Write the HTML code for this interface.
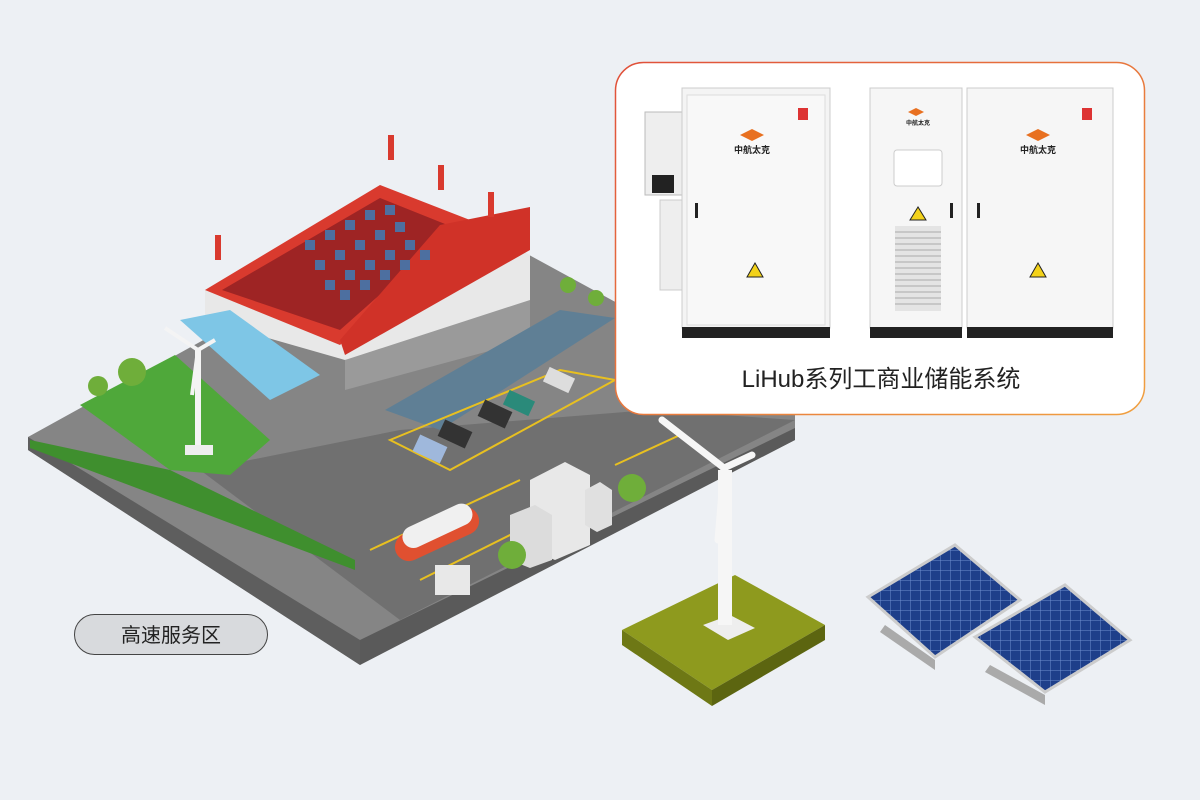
<!DOCTYPE html>
<html><head><meta charset="utf-8"><style>
html,body{margin:0;padding:0;background:#edf0f4;}
body{width:1200px;height:800px;overflow:hidden;position:relative;font-family:"Liberation Sans","Noto Sans CJK SC",sans-serif;}
svg{position:absolute;left:0;top:0}
</style></head><body>
<svg width="1200" height="800" viewBox="0 0 1200 800">
<defs>
<linearGradient id="bd" x1="0" y1="0" x2="1" y2="1"><stop offset="0" stop-color="#e0503a"/><stop offset="1" stop-color="#f0a040"/></linearGradient>
<pattern id="pv" width="10" height="10" patternUnits="userSpaceOnUse"><rect width="10" height="10" fill="#1e3f8a"/><path d="M0 0H10M0 0V10" stroke="#6f8fcf" stroke-width="1"/></pattern>
</defs>
<!-- ground -->
<polygon points="28,437 330,270 520,250 795,400 795,440 400,640 360,665 28,450" fill="#858585"/>
<polygon points="28,437 360,640 360,665 28,450" fill="#5e5e5e"/>
<polygon points="360,640 360,665 795,440 795,428" fill="#5a5a5a"/>
<polygon points="200,470 400,430 650,410 795,420 400,620" fill="#707070"/>
<path d="M370 550 L520 480 M420 580 L600 490 M615 465 L680 435" stroke="#e8c020" stroke-width="2"/>
<!-- grass -->
<polygon points="80,405 175,355 270,440 230,475 170,470" fill="#4fa83a"/>
<polygon points="30,440 170,470 355,560 355,570 30,448" fill="#3f8f2e"/>
<!-- building -->
<polygon points="205,290 380,185 530,255 530,330 345,360 205,320" fill="#e8e8e8"/>
<polygon points="345,360 530,300 530,340 345,390" fill="#9a9a9a"/>
<polygon points="205,290 380,185 470,220 340,345" fill="#d93a2e"/>
<polygon points="222,290 380,198 455,228 340,330" fill="#9e2424"/>
<polygon points="440,225 530,207 530,250 345,355 340,340" fill="#d03228"/>
<polygon points="180,320 230,310 320,375 270,400" fill="#7ec6e6"/>
<g fill="#4d6fa0">
<rect x="305" y="240" width="10" height="10"/><rect x="325" y="230" width="10" height="10"/><rect x="345" y="220" width="10" height="10"/><rect x="365" y="210" width="10" height="10"/><rect x="385" y="205" width="10" height="10"/>
<rect x="315" y="260" width="10" height="10"/><rect x="335" y="250" width="10" height="10"/><rect x="355" y="240" width="10" height="10"/><rect x="375" y="230" width="10" height="10"/><rect x="395" y="222" width="10" height="10"/>
<rect x="325" y="280" width="10" height="10"/><rect x="345" y="270" width="10" height="10"/><rect x="365" y="260" width="10" height="10"/><rect x="385" y="250" width="10" height="10"/><rect x="405" y="240" width="10" height="10"/>
<rect x="340" y="290" width="10" height="10"/><rect x="360" y="280" width="10" height="10"/><rect x="380" y="270" width="10" height="10"/><rect x="400" y="260" width="10" height="10"/><rect x="420" y="250" width="10" height="10"/></g>
<g fill="#d93a2e"><rect x="388" y="135" width="6" height="25"/><rect x="438" y="165" width="6" height="25"/><rect x="488" y="192" width="6" height="25"/><rect x="215" y="235" width="6" height="25"/></g>
<!-- carport -->
<polygon points="385,410 560,310 615,318 440,430" fill="#5f7f95"/>
<polygon points="390,440 560,370 615,380 450,470" fill="none" stroke="#e8c020" stroke-width="2"/>
<rect x="415" y="440" width="30" height="18" fill="#9fb8dc" transform="rotate(25 430 449)"/>
<rect x="440" y="425" width="30" height="18" fill="#333" transform="rotate(25 455 434)"/>
<rect x="480" y="405" width="30" height="18" fill="#333" transform="rotate(25 495 414)"/>
<rect x="505" y="395" width="28" height="16" fill="#2a8a7a" transform="rotate(25 519 403)"/>
<rect x="545" y="372" width="28" height="16" fill="#ddd" transform="rotate(25 559 380)"/>
<!-- truck & buildings -->
<rect x="392" y="520" width="90" height="28" rx="14" fill="#e05030" transform="rotate(-25 437 534)"/>
<rect x="400" y="515" width="75" height="22" rx="11" fill="#f0f0f0" transform="rotate(-25 437 526)"/>
<polygon points="530,480 565,462 590,475 590,545 555,560 530,550" fill="#e8e8e8"/>
<polygon points="510,515 535,505 552,515 552,560 530,568 510,560" fill="#dcdcdc"/>
<polygon points="585,490 600,482 612,490 612,525 597,532 585,525" fill="#e0e0e0"/>
<rect x="435" y="565" width="35" height="30" fill="#e8e8e8"/>
<circle cx="512" cy="555" r="14" fill="#6fae3a"/><circle cx="632" cy="488" r="14" fill="#6fae3a"/>
<circle cx="132" cy="372" r="14" fill="#6fae3a"/><circle cx="98" cy="386" r="10" fill="#6fae3a"/>
<circle cx="568" cy="285" r="8" fill="#6fae3a"/><circle cx="596" cy="298" r="8" fill="#6fae3a"/>
<!-- small windmill -->
<rect x="195" y="350" width="6" height="100" fill="#f4f4f4"/><rect x="185" y="445" width="28" height="10" fill="#eee"/>
<path d="M198 350 L165 328 M198 350 L215 340 M198 350 L192 395" stroke="#f4f4f4" stroke-width="4"/>
<!-- tile + windmill -->
<polygon points="622,630 735,575 825,625 712,690" fill="#8e9a1e"/>
<polygon points="622,630 712,690 712,706 622,645" fill="#6e7815"/>
<polygon points="712,690 825,625 825,640 712,706" fill="#5c6510"/>
<polygon points="703,625 730,615 755,628 728,640" fill="#eee"/>
<rect x="718" y="470" width="14" height="155" fill="#f6f6f6"/>
<path d="M724 468 L662 420 M724 468 L752 455 M724 468 L718 540" stroke="#f6f6f6" stroke-width="7" stroke-linecap="round"/>
<!-- solar panels -->
<polygon points="868,597 955,545 1020,600 935,657" fill="url(#pv)" stroke="#ccc" stroke-width="3"/>
<polygon points="885,625 935,660 935,670 880,632" fill="#aaa"/>
<polygon points="975,637 1065,585 1130,640 1045,692" fill="url(#pv)" stroke="#ccc" stroke-width="3"/>
<polygon points="990,665 1045,695 1045,705 985,672" fill="#aaa"/>
<!-- label -->
<rect x="74.5" y="614.5" width="193" height="40" rx="20" fill="#d8dadd" stroke="#444" stroke-width="1"/>
<text x="171" y="642" text-anchor="middle" font-size="20" fill="#222" font-family="Liberation Sans, Noto Sans CJK SC, sans-serif">高速服务区</text>
<!-- card -->
<rect x="615.5" y="62.5" width="529" height="352" rx="28" fill="#fff" stroke="url(#bd)" stroke-width="1.5"/>
<!-- left cabinet -->
<rect x="645" y="112" width="38" height="83" fill="#eee" stroke="#bbb"/>
<rect x="652" y="175" width="22" height="18" fill="#222"/>
<rect x="660" y="200" width="24" height="90" fill="#eee" stroke="#ccc"/>
<rect x="682" y="88" width="148" height="240" fill="#f4f4f4" stroke="#ccc"/>
<rect x="687" y="95" width="138" height="230" fill="#f8f8f8" stroke="#ddd"/>
<rect x="682" y="327" width="148" height="11" fill="#222"/>
<rect x="798" y="108" width="10" height="12" fill="#d33"/>
<polygon points="740,135 752,129 764,135 752,141" fill="#e87020"/>
<text x="752" y="153" text-anchor="middle" font-size="9" font-weight="bold" fill="#222">中航太克</text>
<rect x="695" y="203" width="3" height="15" fill="#222"/>
<polygon points="755,263 747,277 763,277" fill="#f3d21a" stroke="#222"/>
<!-- mid cabinet -->
<rect x="870" y="88" width="92" height="240" fill="#f6f6f6" stroke="#ccc"/>
<rect x="870" y="327" width="92" height="11" fill="#222"/>
<polygon points="908,112 916,108 924,112 916,116" fill="#e87020"/>
<text x="918" y="125" text-anchor="middle" font-size="6" font-weight="bold" fill="#222">中航太克</text>
<rect x="894" y="150" width="48" height="36" rx="3" fill="#fff" stroke="#ccc"/>
<polygon points="918,207 910,220 926,220" fill="#f3d21a" stroke="#222"/>
<rect x="895" y="226" width="46" height="85" fill="#e4e4e4"/>
<g stroke="#aaa"><path d="M895 232H941M895 238H941M895 244H941M895 250H941M895 256H941M895 262H941M895 268H941M895 274H941M895 280H941M895 286H941M895 292H941M895 298H941M895 304H941"/></g>
<rect x="950" y="203" width="3" height="15" fill="#222"/>
<!-- right cabinet -->
<rect x="967" y="88" width="146" height="240" fill="#f6f6f6" stroke="#ccc"/>
<rect x="967" y="327" width="146" height="11" fill="#222"/>
<rect x="1082" y="108" width="10" height="12" fill="#d33"/>
<polygon points="1026,135 1038,129 1050,135 1038,141" fill="#e87020"/>
<text x="1038" y="153" text-anchor="middle" font-size="9" font-weight="bold" fill="#222">中航太克</text>
<rect x="977" y="203" width="3" height="15" fill="#222"/>
<polygon points="1038,263 1030,277 1046,277" fill="#f3d21a" stroke="#222"/>
<text x="881" y="387" text-anchor="middle" font-size="24" fill="#222" font-family="Liberation Sans, Noto Sans CJK SC, sans-serif">LiHub系列工商业储能系统</text>
</svg>
</body></html>
